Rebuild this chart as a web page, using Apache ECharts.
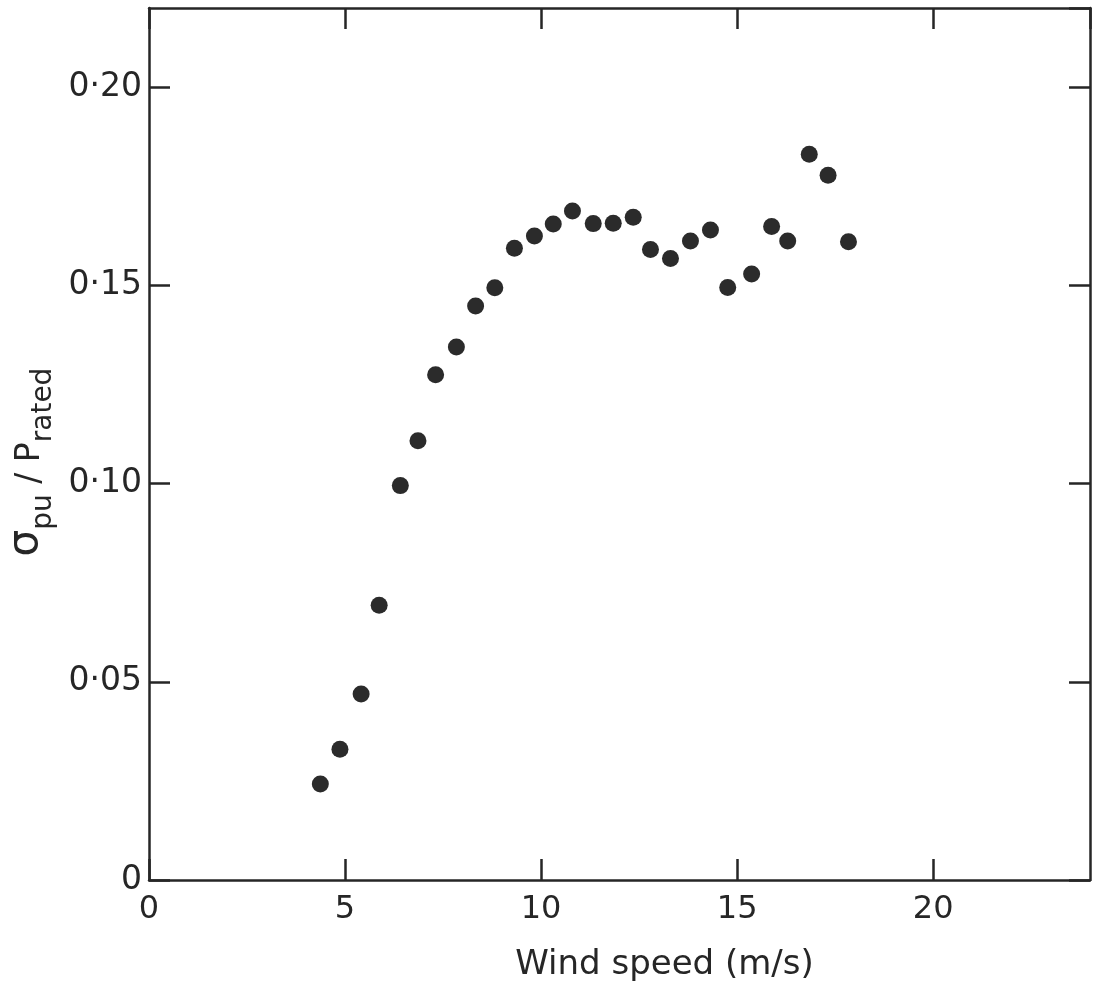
<!DOCTYPE html>
<html>
<head>
<meta charset="utf-8">
<script src="https://cdn.jsdelivr.net/npm/echarts@6/dist/echarts.min.js"></script>
<style>
html,body{margin:0;padding:0;background:#fff;}
#c{width:1102px;height:986px;}
</style>
</head>
<body>
<div id="c"></div>
<script>
// Wind speed (m/s)
const windSpeed = [4.37, 4.87, 5.41, 5.87, 6.41, 6.86, 7.31, 7.84, 8.33, 8.82, 9.32, 9.83, 10.31, 10.80, 11.33, 11.84, 12.35, 12.79, 13.30, 13.81, 14.32, 14.76, 15.37, 15.88, 16.29, 16.84, 17.32, 17.84];
// sigma_pu / P_rated
const sigmaRatio = [0.0242, 0.0330, 0.0469, 0.0693, 0.0995, 0.1108, 0.1275, 0.1345, 0.1448, 0.1494, 0.1594, 0.1625, 0.1655, 0.1688, 0.1656, 0.1657, 0.1672, 0.1591, 0.1568, 0.1612, 0.1640, 0.1495, 0.1529, 0.1649, 0.1612, 0.1831, 0.1778, 0.1610];
const xTicks = [0, 5, 10, 15, 20];
const xTickLabels = ['0', '5', '10', '15', '20'];
const yTicks = [0, 0.05, 0.10, 0.15, 0.20];
const yTickLabels = ['0', '0·05', '0·10', '0·15', '0·20'];

const ink = '#262626';
const font = 'DejaVu Sans';

function xLabel(v) {
  const i = xTicks.findIndex(t => Math.abs(t - v) < 1e-9);
  return i >= 0 ? xTickLabels[i] : '';
}
function yLabel(v) {
  const i = yTicks.findIndex(t => Math.abs(t - v) < 1e-9);
  return i >= 0 ? yTickLabels[i] : '';
}

const chart = echarts.init(document.getElementById('c'), null, {renderer: 'canvas'});
const axisLine = {show: true, onZero: false, lineStyle: {color: ink, width: 2.5}};
const tick = {show: true, inside: true, length: 21, lineStyle: {color: ink, width: 2.5}};

chart.setOption({
  backgroundColor: '#ffffff',
  animation: false,
  grid: {left: 149, right: 12, top: 8, bottom: 106, containLabel: false, outerBoundsMode: 'none'},
  xAxis: [{
    type: 'value', min: 0, max: 24, interval: 5, position: 'bottom',
    axisLine: axisLine, axisTick: tick, splitLine: {show: false},
    axisLabel: {formatter: xLabel, color: ink, fontFamily: font, fontSize: 32, margin: 14, showMaxLabel: false},
    name: 'Wind speed (m/s)', nameLocation: 'middle', nameGap: 68,
    nameTextStyle: {color: ink, fontFamily: font, fontSize: 34, padding: [0, 0, 0, 90]}
  }, {
    type: 'value', min: 0, max: 24, interval: 5, position: 'top',
    axisLine: axisLine, axisTick: tick, splitLine: {show: false},
    axisLabel: {show: false}
  }],
  yAxis: [{
    type: 'value', min: 0, max: 0.22, interval: 0.05, position: 'left',
    axisLine: axisLine, axisTick: tick, splitLine: {show: false},
    axisLabel: {formatter: yLabel, color: ink, fontFamily: font, fontSize: 33, margin: 7, showMaxLabel: false},
    name: '{s|σ}{sub|pu}{n| / P}{sub|rated}', nameLocation: 'middle', nameRotate: 90, nameGap: 92,
    nameTextStyle: {
      color: ink, fontFamily: font, padding: [0, 36, 0, 0],
      rich: {
        s: {fontSize: 42, color: ink, fontFamily: font, verticalAlign: 'bottom', lineHeight: 44},
        n: {fontSize: 33, color: ink, fontFamily: font, verticalAlign: 'bottom', lineHeight: 40},
        sub: {fontSize: 28, color: ink, fontFamily: font, verticalAlign: 'bottom', lineHeight: 28, padding: [0, 0, -11, 0]}
      }
    }
  }, {
    type: 'value', min: 0, max: 0.22, interval: 0.05, position: 'right',
    axisLine: axisLine, axisTick: tick, splitLine: {show: false},
    axisLabel: {show: false}
  }],
  series: [{
    type: 'scatter',
    data: windSpeed.map((w, i) => [w, sigmaRatio[i]]),
    symbol: 'circle', symbolSize: 17,
    itemStyle: {color: '#2b2b2b', opacity: 1}
  }]
});
</script>
</body>
</html>
